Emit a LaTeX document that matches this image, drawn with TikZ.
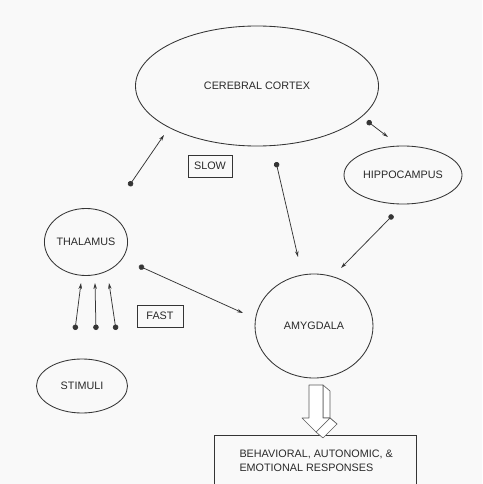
\documentclass[tikz,border=0pt]{standalone}
\usepackage{fontspec}
\setmainfont{Liberation Sans}
\usetikzlibrary{shapes.geometric,arrows.meta}
\definecolor{ink}{HTML}{353535}
\definecolor{txt}{HTML}{2A2A2A}
\definecolor{paper}{HTML}{F9F9F9}
\tikzset{
  region/.style={ellipse, draw=ink, line width=0.85pt, inner sep=0pt, text=txt, font=\fontsize{10.8}{12}\selectfont},
  labelbox/.style={rectangle, draw=ink, line width=0.75pt, inner sep=0pt, text=txt, font=\fontsize{10.8}{12}\selectfont},
  conn/.style={draw=ink, line width=0.75pt, {Circle[length=5.5pt]}-{Stealth[length=6pt,width=3.5pt]}},
  blockface/.style={draw=ink!80, line width=0.6pt, fill=white, line join=round}
}
\begin{document}
\begin{tikzpicture}[x=1pt,y=-1pt]
\fill[paper] (0,0) rectangle (482,484);
\useasboundingbox (0,0) rectangle (482,484);

% regions
\node[region, minimum width=243pt, minimum height=120pt] (cortex) at (257,86) {CEREBRAL CORTEX};
\node[region, minimum width=81pt, minimum height=67pt] (thalamus) at (86,242) {THALAMUS};
\node[region, minimum width=118pt, minimum height=58pt] (hippo) at (403,175) {HIPPOCAMPUS};
\node[region, minimum width=118pt, minimum height=104pt] (amyg) at (314,326) {AMYGDALA};
\node[region, minimum width=91pt, minimum height=54pt] (stimuli) at (82,386) {STIMULI};

% labels
\node[labelbox, minimum width=44pt, minimum height=22pt] (slow) at (210,166) {SLOW};
\node[labelbox, minimum width=46pt, minimum height=22pt] (fast) at (160,316) {FAST};

% responses box (runs off the bottom)
\draw[ink, line width=0.75pt] (214,490) -- (214,435) -- (416,435) -- (416,490);
\node[anchor=west, text=txt, align=left, font=\fontsize{10.8}{14}\selectfont] (resp) at (236,461) {BEHAVIORAL, AUTONOMIC, \&\\EMOTIONAL RESPONSES};

% connector end points
\coordinate (t2c-a) at (129,186); \coordinate (t2c-b) at (164,135);
\coordinate (t2a-a) at (139,266); \coordinate (t2a-b) at (243,313);
\coordinate (c2h-a) at (367,121); \coordinate (c2h-b) at (388,137);
\coordinate (c2a-a) at (276,162); \coordinate (c2a-b) at (298,257);
\coordinate (h2a-a) at (393,215); \coordinate (h2a-b) at (341,268);
\coordinate (s1-a) at (75,330); \coordinate (s1-b) at (81,283);
\coordinate (s2-a) at (96,330); \coordinate (s2-b) at (95,283);
\coordinate (s3-a) at (116,330); \coordinate (s3-b) at (109,283);

\draw[conn] (t2c-a) -- (t2c-b);
\draw[conn] (t2a-a) -- (t2a-b);
\draw[conn] (c2h-a) -- (c2h-b);
\draw[conn] (c2a-a) -- (c2a-b);
\draw[conn] (h2a-a) -- (h2a-b);
\draw[conn] (s1-a) -- (s1-b);
\draw[conn] (s2-a) -- (s2-b);
\draw[conn] (s3-a) -- (s3-b);

% 3D block arrow from amygdala to responses
\draw[blockface] (323,385) -- (330,391) -- (330,424) -- (323,418) -- cycle;
\draw[blockface] (323,418) -- (330,418) -- (337,424) -- (330,424) -- cycle;
\draw[blockface] (330,418) -- (316,432) -- (323,438) -- (337,424) -- cycle;
\draw[blockface] (309,385) -- (323,385) -- (323,418) -- (330,418) -- (316,432) -- (302,418) -- (309,418) -- cycle;
\end{tikzpicture}
\end{document}
